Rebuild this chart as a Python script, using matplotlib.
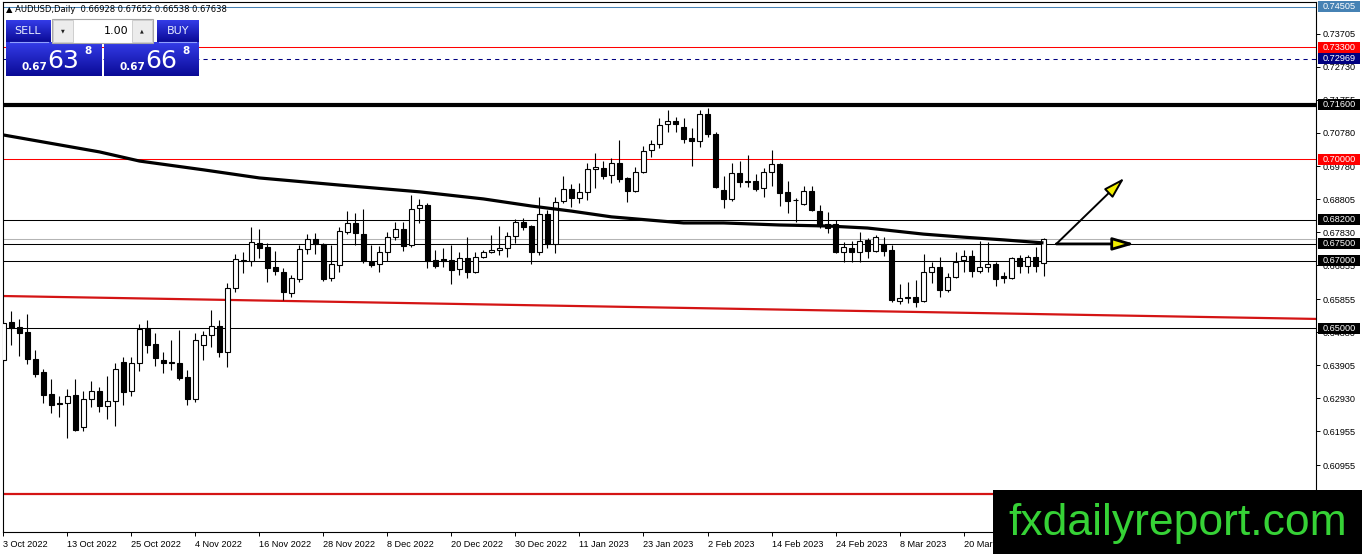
import matplotlib
matplotlib.use("Agg")
import matplotlib.pyplot as plt
import numpy as np
from matplotlib.patches import Rectangle, FancyArrowPatch

# AUDUSD daily candles, 3 Oct 2022 .. 3 Apr 2023
opens = [0.6406, 0.6518, 0.6503, 0.6489, 0.6409, 0.6370, 0.6305, 0.6279, 0.6279, 0.6302,
         0.6208, 0.6291, 0.6314, 0.6270, 0.6285, 0.6400, 0.6314, 0.6397, 0.6500, 0.6453,
         0.6406, 0.6398, 0.6397, 0.6356, 0.6291, 0.6450, 0.6480, 0.6506, 0.6429, 0.6619,
         0.6699, 0.6698, 0.6752, 0.6740, 0.6681, 0.6666, 0.6604, 0.6645, 0.6734, 0.6764,
         0.6749, 0.6648, 0.6687, 0.6784, 0.6811, 0.6778, 0.6696, 0.6690, 0.6725, 0.6770,
         0.6793, 0.6746, 0.6855, 0.6864, 0.6701, 0.6704, 0.6701, 0.6675, 0.6707, 0.6666,
         0.6710, 0.6725, 0.6731, 0.6737, 0.6772, 0.6814, 0.6802, 0.6725, 0.6837, 0.6749,
         0.6876, 0.6911, 0.6885, 0.6902, 0.6970, 0.6973, 0.6953, 0.6988, 0.6944, 0.6905,
         0.6962, 0.7027, 0.7044, 0.7103, 0.7112, 0.7095, 0.7062, 0.7053, 0.7133, 0.7074,
         0.6908, 0.6882, 0.6959, 0.6935, 0.6935, 0.6914, 0.6962, 0.6985, 0.6902, 0.6879,
         0.6867, 0.6905, 0.6846, 0.6808, 0.6808, 0.6725, 0.6737, 0.6725, 0.6761, 0.6728,
         0.6749, 0.6731, 0.6580, 0.6592, 0.6592, 0.6580, 0.6666, 0.6681, 0.6613, 0.6651,
         0.6701, 0.6713, 0.6669, 0.6681, 0.6690, 0.6654, 0.6648, 0.6707, 0.6684, 0.6710,
         0.66928]
highs = [0.6524, 0.6551, 0.6527, 0.6542, 0.6435, 0.6379, 0.6350, 0.6299, 0.6320, 0.6350,
         0.6314, 0.6344, 0.6326, 0.6359, 0.6397, 0.6415, 0.6415, 0.6512, 0.6524, 0.6486,
         0.6429, 0.6465, 0.6494, 0.6376, 0.6486, 0.6491, 0.6554, 0.6524, 0.6634, 0.6719,
         0.6725, 0.6799, 0.6793, 0.6752, 0.6728, 0.6678, 0.6657, 0.6746, 0.6778, 0.6781,
         0.6752, 0.6746, 0.6799, 0.6846, 0.6840, 0.6852, 0.6746, 0.6743, 0.6784, 0.6814,
         0.6814, 0.6894, 0.6882, 0.6870, 0.6731, 0.6737, 0.6746, 0.6725, 0.6770, 0.6725,
         0.6731, 0.6775, 0.6802, 0.6784, 0.6823, 0.6826, 0.6805, 0.6888, 0.6849, 0.6888,
         0.6950, 0.6926, 0.6929, 0.6988, 0.7018, 0.6994, 0.7003, 0.7056, 0.6947, 0.6976,
         0.7038, 0.7056, 0.7121, 0.7145, 0.7124, 0.7121, 0.7092, 0.7145, 0.7151, 0.7080,
         0.6950, 0.6988, 0.6994, 0.7012, 0.6956, 0.6973, 0.7027, 0.6988, 0.6935, 0.6885,
         0.6920, 0.6920, 0.6864, 0.6843, 0.6820, 0.6755, 0.6758, 0.6784, 0.6767, 0.6775,
         0.6770, 0.6746, 0.6631, 0.6636, 0.6642, 0.6719, 0.6696, 0.6710, 0.6663, 0.6725,
         0.6731, 0.6731, 0.6758, 0.6755, 0.6696, 0.6666, 0.6710, 0.6716, 0.6716, 0.6740,
         0.67652]
lows = [0.6400, 0.6450, 0.6418, 0.6394, 0.6356, 0.6279, 0.6249, 0.6237, 0.6175, 0.6196,
        0.6196, 0.6267, 0.6252, 0.6231, 0.6211, 0.6273, 0.6299, 0.6373, 0.6427, 0.6388,
        0.6367, 0.6376, 0.6347, 0.6273, 0.6282, 0.6406, 0.6444, 0.6415, 0.6385, 0.6607,
        0.6663, 0.6684, 0.6707, 0.6636, 0.6657, 0.6583, 0.6592, 0.6636, 0.6719, 0.6719,
        0.6639, 0.6639, 0.6666, 0.6778, 0.6746, 0.6693, 0.6681, 0.6666, 0.6698, 0.6761,
        0.6728, 0.6740, 0.6811, 0.6678, 0.6678, 0.6681, 0.6631, 0.6657, 0.6648, 0.6663,
        0.6707, 0.6722, 0.6716, 0.6710, 0.6752, 0.6790, 0.6690, 0.6716, 0.6737, 0.6722,
        0.6870, 0.6858, 0.6870, 0.6879, 0.6914, 0.6941, 0.6929, 0.6932, 0.6873, 0.6902,
        0.6959, 0.7006, 0.7032, 0.7080, 0.7080, 0.7047, 0.6979, 0.7035, 0.7065, 0.6914,
        0.6855, 0.6876, 0.6917, 0.6917, 0.6905, 0.6888, 0.6920, 0.6861, 0.6840, 0.6814,
        0.6864, 0.6846, 0.6796, 0.6781, 0.6722, 0.6696, 0.6696, 0.6696, 0.6707, 0.6725,
        0.6713, 0.6577, 0.6571, 0.6574, 0.6563, 0.6577, 0.6634, 0.6592, 0.6607, 0.6648,
        0.6666, 0.6651, 0.6663, 0.6666, 0.6625, 0.6634, 0.6645, 0.6663, 0.6663, 0.6666,
        0.66538]
closes = [0.6515, 0.6500, 0.6485, 0.6409, 0.6364, 0.6302, 0.6273, 0.6276, 0.6299, 0.6199,
          0.6291, 0.6314, 0.6270, 0.6285, 0.6379, 0.6311, 0.6397, 0.6497, 0.6450, 0.6412,
          0.6397, 0.6397, 0.6353, 0.6291, 0.6465, 0.6480, 0.6506, 0.6429, 0.6619, 0.6704,
          0.6701, 0.6755, 0.6737, 0.6678, 0.6669, 0.6607, 0.6648, 0.6734, 0.6764, 0.6749,
          0.6645, 0.6690, 0.6787, 0.6811, 0.6781, 0.6698, 0.6687, 0.6725, 0.6770, 0.6793,
          0.6743, 0.6852, 0.6864, 0.6698, 0.6684, 0.6698, 0.6672, 0.6707, 0.6666, 0.6710,
          0.6725, 0.6731, 0.6737, 0.6772, 0.6814, 0.6799, 0.6725, 0.6837, 0.6749, 0.6873,
          0.6911, 0.6885, 0.6902, 0.6970, 0.6976, 0.6950, 0.6988, 0.6941, 0.6905, 0.6962,
          0.7024, 0.7044, 0.7100, 0.7112, 0.7103, 0.7059, 0.7053, 0.7133, 0.7074, 0.6917,
          0.6882, 0.6959, 0.6932, 0.6932, 0.6911, 0.6962, 0.6985, 0.6900, 0.6876, 0.6878,
          0.6905, 0.6849, 0.6802, 0.6796, 0.6725, 0.6740, 0.6725, 0.6758, 0.6728, 0.6770,
          0.6728, 0.6583, 0.6589, 0.6589, 0.6577, 0.6666, 0.6681, 0.6613, 0.6651, 0.6696,
          0.6713, 0.6669, 0.6681, 0.6690, 0.6645, 0.6648, 0.6707, 0.6684, 0.6710, 0.6684,
          0.67638]

# thick moving average, sampled along the curve
ma_bars = [0, 12, 17, 25, 32, 42, 52, 60, 66, 71, 76, 85, 90, 97, 103, 108, 115, 120, 125, 130]
ma_vals = [0.7071, 0.7021, 0.6994, 0.6968, 0.6944, 0.6923, 0.6903, 0.6882, 0.6861, 0.6846,
           0.6829, 0.6811, 0.6811, 0.6805, 0.6802, 0.6796, 0.6778, 0.6769, 0.6761, 0.6752]

# red support trendline anchors
trend_bars = [0, 143]
trend_vals = [0.6595, 0.6536]

# horizontal levels with their right-axis label colours
level_prices = [0.74505, 0.73300, 0.72969, 0.71600, 0.70000, 0.68200, 0.67500, 0.67000, 0.65000]
level_colors = ["#4682b4", "#ff0000", "#000080", "black", "#ff0000", "black", "black", "black", "black"]
bottom_red = 0.6010

bid, ask = 0.67638, 0.67668

# projection arrows
arrow_start = (131.6, 0.6749)
arrow_up = (140.1, 0.6944)
arrow_flat = (141.4, 0.6749)

tick_prices = [0.73705, 0.72730, 0.71755, 0.70780, 0.69780, 0.68805, 0.67830,
               0.66855, 0.65855, 0.64880, 0.63905, 0.62930, 0.61955, 0.60955]
# the label at bar 128 sits under the watermark in the screenshot
date_labels = ["3 Oct 2022", "13 Oct 2022", "25 Oct 2022", "4 Nov 2022", "16 Nov 2022",
               "28 Nov 2022", "8 Dec 2022", "20 Dec 2022", "30 Dec 2022", "11 Jan 2023",
               "23 Jan 2023", "2 Feb 2023", "14 Feb 2023", "24 Feb 2023", "8 Mar 2023",
               "20 Mar 2023"]

W, H = 1362, 554
FONT = "Liberation Sans"

fig = plt.figure(figsize=(W / 100, H / 100), dpi=100)
fig.patch.set_facecolor("white")
L, R, T, B = 3, 1316, 2, 532
ax = fig.add_axes([L / W, (H - B) / H, (R - L) / W, (B - T) / H])
ax.set_xlim(-0.06, 164.06)
ax.set_ylim(0.58975, 0.74641)

# levels
ax.axhline(level_prices[0], color="#4682b4", lw=0.75, zorder=1)
ax.axhline(level_prices[1], color="#ff0000", lw=0.75, zorder=1)
ax.axhline(level_prices[2], color="#000080", lw=0.75, ls=(0, (4, 4)), zorder=1)
ax.axhline(level_prices[3], color="black", lw=3.0, zorder=1)
ax.axhline(level_prices[4], color="#ff0000", lw=0.75, zorder=1)
for p in level_prices[5:]:
    ax.axhline(p, color="black", lw=0.75, zorder=1)
ax.axhline(bid, color="#b4b4b4", lw=0.75, zorder=1)
ax.axhline(bottom_red, color="#d41414", lw=1.6, zorder=1)
ax.axline((trend_bars[0], trend_vals[0]), (trend_bars[1], trend_vals[1]),
          color="#d41414", lw=1.6, zorder=1)

# candles
o = np.array(opens); h = np.array(highs); l = np.array(lows); c = np.array(closes)
xs = np.arange(len(c))
up = c >= o
ax.vlines(xs, l, h, color="black", lw=0.8, zorder=3)
ax.bar(xs, np.maximum(np.abs(c - o), 0.00022), bottom=np.minimum(o, c), width=0.55,
       color=np.where(up, "white", "black"), edgecolor="black", linewidth=0.8, zorder=4)

ax.plot(ma_bars, ma_vals, color="black", lw=2.3, zorder=5, solid_capstyle="butt")

for tgt, lw in [(arrow_up, 1.4), (arrow_flat, 2.0)]:
    ax.add_patch(FancyArrowPatch(arrow_start, tgt,
                                 arrowstyle="-|>,head_length=1.3,head_width=0.38",
                                 mutation_scale=10, lw=lw, facecolor="#f2ee00",
                                 edgecolor="black", shrinkA=0, shrinkB=0, zorder=6))

# axes styling
for s in ax.spines.values():
    s.set_color("black"); s.set_linewidth(0.8)
ax.yaxis.tick_right()
ax.set_yticks(tick_prices)
ax.set_yticklabels([f"{p:.5f}" for p in tick_prices], fontsize=6.6, family=FONT)
ax.tick_params(axis="y", length=3, width=0.7, pad=2, direction="out")
ax.set_xticks(range(0, 8 * len(date_labels), 8))
ax.set_xticklabels(date_labels, fontsize=6.6, family=FONT, ha="left")
ax.tick_params(axis="x", length=3, width=0.7, pad=3, direction="out")

# right-axis price boxes
tr = ax.get_yaxis_transform()
bx0 = (1318 - L) / (R - L)
bw = 42 / (R - L)
bh = 11 * (ax.get_ylim()[1] - ax.get_ylim()[0]) / (B - T)
for p, col in zip(level_prices, level_colors):
    ax.add_patch(Rectangle((bx0, p - bh / 2), bw, bh, transform=tr, facecolor=col,
                           edgecolor="none", clip_on=False, zorder=10))
    ax.text(bx0 + bw / 2, p, f"{p:.5f}", transform=tr, ha="center", va="center",
            color="white", fontsize=6.6, family=FONT, zorder=11, clip_on=False)

# overlay in pixel coordinates: header, trade panel, watermark
ui = fig.add_axes([0, 0, 1, 1], zorder=20)
ui.patch.set_alpha(0)
ui.axis("off")

ui.text(6, 9.5, f"\u25b2 AUDUSD,Daily  {opens[-1]:.5f} {highs[-1]:.5f} {lows[-1]:.5f} {closes[-1]:.5f}",
        fontsize=6, va="center", ha="left", color="black")

grad = np.linspace(0, 1, 64)[:, None]
top_c = np.array([52, 60, 232]) / 255
bot_c = np.array([10, 10, 150]) / 255
img = top_c[None, None, :] * (1 - grad[:, :, None]) + bot_c[None, None, :] * grad[:, :, None]


def blue_box(x0, x1, y0, y1):
    ui.imshow(img, extent=(x0, x1, y1, y0), aspect="auto", origin="upper", zorder=1)


blue_box(6, 51, 20, 42)
blue_box(6, 102, 42, 76)
blue_box(157, 199, 20, 42)
blue_box(104, 199, 42, 76)
ui.plot([10, 48], [42, 42], color="#8fa0ff", lw=0.8, zorder=2)
ui.plot([159, 196], [42, 42], color="#8fa0ff", lw=0.8, zorder=2)
ui.text(28, 31, "SELL", color="#e6ecff", fontsize=8, ha="center", va="center", zorder=3)
ui.text(178, 31, "BUY", color="#e6ecff", fontsize=8, ha="center", va="center", zorder=3)

ui.add_patch(Rectangle((52, 19), 101, 24, facecolor="white", edgecolor="#a8a8a8", lw=0.8, zorder=2))
ui.add_patch(Rectangle((53, 20), 20, 22, facecolor="#ececec", edgecolor="#c8c8c8", lw=0.6, zorder=3))
ui.add_patch(Rectangle((132, 20), 20, 22, facecolor="#ececec", edgecolor="#c8c8c8", lw=0.6, zorder=3))
ui.text(63, 31, "\u25bc", fontsize=3.5, ha="center", va="center", color="#222222", zorder=4)
ui.text(142, 31, "\u25b2", fontsize=3.5, ha="center", va="center", color="#222222", zorder=4)
ui.text(128, 31, "1.00", fontsize=8, ha="right", va="center", color="black", zorder=4)

for price, dx in [(bid, 0), (ask, 98)]:
    s = f"{price:.5f}"
    ui.text(21 + dx, 70, s[:4], color="white", fontsize=7.5, fontweight="bold",
            ha="left", va="baseline", zorder=3)
    ui.text(47 + dx, 68.5, s[4:6], color="white", fontsize=18, ha="left", va="baseline", zorder=3)
    ui.text(88 + dx, 51, s[6], color="white", fontsize=7.5, fontweight="bold",
            ha="center", va="center", zorder=3)

ui.add_patch(Rectangle((993, 490), W - 993, H - 490, facecolor="black", edgecolor="none", zorder=5))
ui.text(1178, 523, "fxdailyreport.com", color="#36d236", fontsize=32, family=FONT,
        ha="center", va="center", zorder=6)

ui.set_xlim(0, W)
ui.set_ylim(H, 0)

fig.savefig("out.png", dpi=100)
